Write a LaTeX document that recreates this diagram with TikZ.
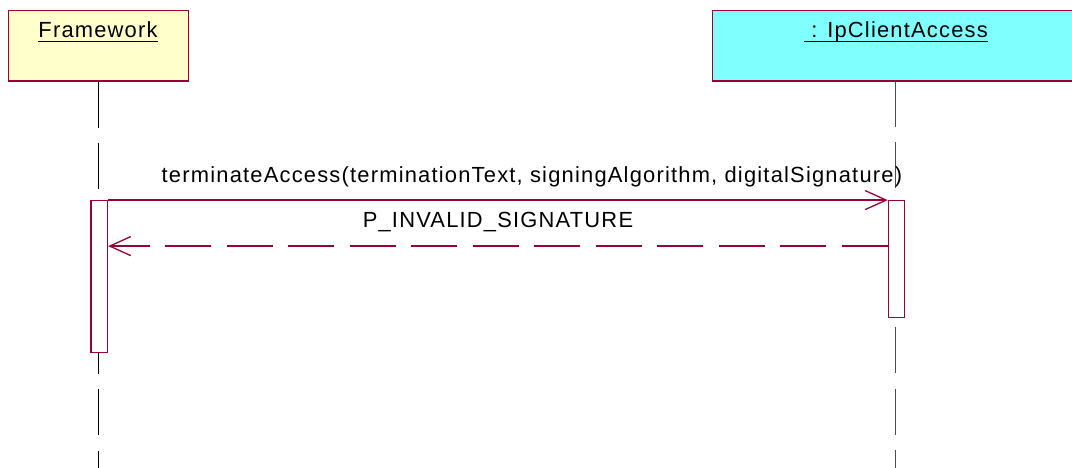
\documentclass[tikz,border=0pt]{standalone}
\usepackage{fontspec}
\setmainfont{Liberation Sans}
\newfontfamily\umlfont[LetterSpace=5.5]{Liberation Sans}
\usepackage{tikz}
\usetikzlibrary{arrows.meta}
\usepackage{xcolor}
\definecolor{umlred}{HTML}{990033}
\definecolor{fwfill}{HTML}{FFFFCC}
\definecolor{cafill}{HTML}{80FFFF}

\begin{document}
\begin{tikzpicture}[x=1pt,y=-1pt,>={Straight Barb[length=21pt,width=19pt,line width=1.3pt]},
  font=\umlfont\fontsize{21.9}{26}\selectfont,
  obj/.style={draw=umlred,line width=1.2pt,minimum height=70.3pt,inner sep=0pt},
  act/.style={draw=umlred,fill=white,line width=1.2pt,minimum width=16.5pt,inner sep=0pt},
  life/.style={line width=1pt,dash pattern=on 46pt off 15.5pt},
  msg/.style={draw=umlred,line width=1.3pt},
  objname/.style={anchor=base,inner sep=0pt}]
\useasboundingbox (0,0) rectangle (1072,468);
% object boxes
\node[obj,fill=fwfill,minimum width=180pt] (fw) at (98.3,45.85) {};
\node[obj,fill=cafill,minimum width=370pt] (ca) at (897.7,45.85) {};
\node[objname] (fwname) at (98,37.3) {Framework};
\node[objname] (caname) at (896,37.3) {\ : IpClientAccess};
\draw[line width=1.6pt] ([yshift=-4.4pt]fwname.base west) -- ([yshift=-4.4pt]fwname.base east);
\draw[line width=1.6pt] ([yshift=-4.4pt]caname.base west) -- ([yshift=-4.4pt]caname.base east);
% lifelines
\coordinate (fwend) at (98.3,468);
\coordinate (catop) at (895.85,81);
\coordinate (caend) at (895.85,468);
\draw[life] (fw.south) -- (fwend);
\draw[life,black!70] (catop) -- (caend);
% activations
\node[act,minimum height=152pt] (fwact) at (99.3,276.7) {};
\node[act,minimum height=116.6pt] (caact) at (896.6,259) {};
% messages
\draw[msg,->] (fwact.north east) -- (caact.north west)
  node[pos=0.5,anchor=base,inner sep=0pt,text=black,xshift=34pt,yshift=18pt] (m1) {terminateAccess(terminationText, signingAlgorithm, digitalSignature)};
\draw[msg,->,dash pattern=on 46pt off 15.5pt] ([yshift=-46pt]caact.north west) -- ([yshift=-46pt]fwact.north east)
  node[pos=0.5,anchor=base,inner sep=0pt,text=black,yshift=19pt] (m2) {P\_INVALID\_SIGNATURE};
\end{tikzpicture}
\end{document}
